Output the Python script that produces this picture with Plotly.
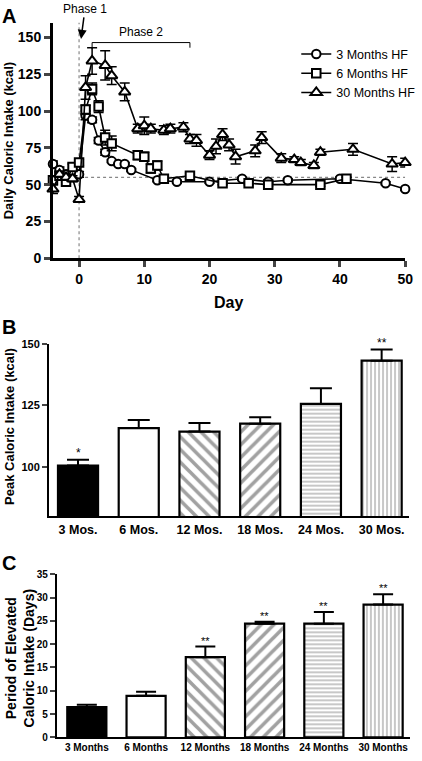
import plotly.graph_objects as go

W, H = 422, 761
FONT = "Arial, Liberation Sans, sans-serif"

# ---------------- Panel A data ----------------
days_3m = [-4, -3, -2, -1, 0, 1, 2, 3, 4, 5, 6, 7, 8, 12, 15, 20, 25, 29, 32, 40, 47, 50]
kcal_3m = [64, 60, 57, 58, 57, 97, 94, 80, 72, 66, 64, 64, 60, 53, 52, 52, 54, 52, 53, 54, 51, 47]
err_3m = [2, 2, 2, 2, 2, 3, 2, 2, 2, 1, 1, 1, 1, 1, 1, 1, 1, 1, 1, 1, 1, 1]

days_6m = [-4, -3, -2, -1, 0, 1, 2, 3, 4, 5, 9, 10, 11, 12, 13, 17, 22, 26, 29, 37, 41]
kcal_6m = [53, 56, 52, 62, 65, 101, 115, 103, 82, 78, 70, 69, 61, 63, 54, 56, 51, 51, 50, 50, 54]
err_6m = [2, 2, 2, 2, 2, 3, 4, 4, 5, 5, 3, 3, 3, 3, 2, 2, 1, 1, 1, 1, 1]

days_30m = [-4, -3, -2, -1, 0, 1, 2, 4, 5, 7, 9, 10, 11, 13, 14, 16, 17, 18, 20, 21, 22, 23, 24,
            27, 28, 31, 33, 34, 36, 37, 42, 48, 50]
kcal_30m = [47, 57, 55, 54, 40, 116, 134, 131, 124, 113, 88, 90, 88, 87, 88, 89, 81, 80, 70, 76, 84,
            77, 69, 73, 82, 68, 67, 65, 63, 72, 74, 64, 65]
err_30m = [3, 2, 2, 2, 2, 8, 9, 10, 6, 6, 3, 6, 3, 3, 3, 3, 3, 4, 3, 5, 4, 4, 5, 4, 4, 3, 2, 2, 2,
           2, 4, 5, 3]

series_names = ["3 Months HF", "6 Months HF", "30 Months HF"]
baseline_kcal = 55
phase2_start, phase2_end = 2, 17

# ---------------- Panel B data ----------------
peak_groups = ["3 Mos.", "6 Mos.", "12 Mos.", "18 Mos.", "24 Mos.", "30 Mos."]
peak_kcal = [100.6, 115.8, 114.4, 117.6, 125.6, 143.1]
peak_err = [2.4, 3.3, 3.5, 2.6, 6.3, 4.5]
peak_stars = ["*", "", "", "", "", "**"]

# ---------------- Panel C data ----------------
period_groups = ["3 Months", "6 Months", "12 Months", "18 Months", "24 Months", "30 Months"]
period_days = [6.5, 8.9, 17.2, 24.4, 24.4, 28.5]
period_err = [0.5, 0.9, 2.3, 0.4, 2.5, 2.2]
period_stars = ["", "", "**", "**", "**", "**"]

pattern_shapes = ["", "", "\\", "/", "-", "|"]
bar_colors = ["black", "white", "white", "white", "white", "white"]
pattern_fg = ["black", "black", "black", "black", "#808080", "#808080"]
pattern_size = [8, 8, 9, 9, 4, 4]
pattern_solid = [0.2, 0.2, 0.4, 0.4, 0.3, 0.3]


def px_x(p):
    return p / W


def px_y(p):
    return 1 - p / H


fig = go.Figure()

symbols = ["circle", "square", "triangle-up"]
for name, xs, ys, es, sym in zip(series_names, [days_3m, days_6m, days_30m],
                                  [kcal_3m, kcal_6m, kcal_30m], [err_3m, err_6m, err_30m], symbols):
    fig.add_trace(go.Scatter(
        x=xs, y=ys, name=name, mode="lines+markers",
        line=dict(color="black", width=1.6),
        marker=dict(symbol=sym, size=10 if sym == "triangle-up" else 8.5, color="white",
                    line=dict(color="black", width=2)),
        error_y=dict(type="data", array=es, visible=True, color="black", thickness=1.5, width=5),
        xaxis="x", yaxis="y", cliponaxis=False,
    ))

# Panel B bars
fig.add_trace(go.Bar(
    x=peak_groups, y=peak_kcal, width=0.66, showlegend=False,
    marker=dict(color=bar_colors, line=dict(color="black", width=2.2),
                pattern=dict(shape=pattern_shapes, fgcolor=pattern_fg, bgcolor=bar_colors,
                             size=pattern_size, solidity=pattern_solid)),
    error_y=dict(type="data", array=peak_err, arrayminus=[0] * 6, symmetric=False,
                 color="black", thickness=2, width=11),
    xaxis="x2", yaxis="y2",
))

# Panel C bars
fig.add_trace(go.Bar(
    x=period_groups, y=period_days, width=0.66, showlegend=False,
    marker=dict(color=bar_colors, line=dict(color="black", width=2.2),
                pattern=dict(shape=pattern_shapes, fgcolor=pattern_fg, bgcolor=bar_colors,
                             size=pattern_size, solidity=pattern_solid)),
    error_y=dict(type="data", array=period_err, arrayminus=[0] * 6, symmetric=False,
                 color="black", thickness=2, width=10),
    xaxis="x3", yaxis="y3",
))

annotations = []
# stars
for g, v, e, s in zip(peak_groups, peak_kcal, peak_err, peak_stars):
    if s:
        annotations.append(dict(x=g, y=v + e, xref="x2", yref="y2", text=s, showarrow=False,
                                yanchor="bottom", yshift=-2, font=dict(size=12, color="black", family=FONT)))
for g, v, e, s in zip(period_groups, period_days, period_err, period_stars):
    if s:
        annotations.append(dict(x=g, y=v + e, xref="x3", yref="y3", text=s, showarrow=False,
                                yanchor="bottom", yshift=-2, font=dict(size=11, color="black", family=FONT)))

# panel letters
for letter, yc in [("A", 10), ("B", 327), ("C", 567)]:
    annotations.append(dict(x=px_x(0), y=px_y(yc), xref="paper", yref="paper", text="<b>%s</b>" % letter,
                            showarrow=False, xanchor="left", yanchor="middle",
                            font=dict(size=20, color="black", family=FONT)))

# y titles
annotations.append(dict(x=px_x(9), y=px_y(137), xref="paper", yref="paper", xanchor="center",
                        yanchor="middle", text="<b>Daily Caloric Intake (kcal)</b>", textangle=-90,
                        showarrow=False, font=dict(size=13, color="black", family=FONT)))
annotations.append(dict(x=px_x(9), y=px_y(428), xref="paper", yref="paper", xanchor="center",
                        yanchor="middle", text="<b>Peak Caloric Intake (kcal)</b>", textangle=-90,
                        showarrow=False, font=dict(size=13, color="black", family=FONT)))
annotations.append(dict(x=px_x(20), y=px_y(664), xref="paper", yref="paper", xanchor="center",
                        yanchor="middle", text="<b>Period of Elevated<br>Caloric Intake (Days)</b>",
                        textangle=-90, showarrow=False, font=dict(size=14, color="black", family=FONT)))
# x title A
annotations.append(dict(x=px_x(233), y=px_y(302), xref="paper", yref="paper", text="<b>Day</b>",
                        xanchor="center", yanchor="middle",
                        showarrow=False, font=dict(size=16, color="black", family=FONT)))

# Phase 1 arrow
annotations.append(dict(x=0.3, y=149, xref="x", yref="y", text="Phase 1", showarrow=True,
                        arrowhead=2, arrowsize=1.2, arrowwidth=1.5, arrowcolor="black",
                        ax=4, ay=-30, font=dict(size=12, color="black", family=FONT), bgcolor="white"))
# Phase 2 label
annotations.append(dict(x=(phase2_start + phase2_end) / 2, y=146.5, xref="x", yref="y", text="Phase 2",
                        showarrow=False, yanchor="bottom", yshift=2,
                        font=dict(size=12, color="black", family=FONT)))

shapes = [
    dict(type="line", xref="x", yref="y", x0=0, x1=0, y0=0, y1=162,
         line=dict(color="#888888", width=1.2, dash="dot"), layer="below"),
    dict(type="line", xref="x", yref="y", x0=0, x1=50, y0=baseline_kcal, y1=baseline_kcal,
         line=dict(color="#888888", width=1.2, dash="dot"), layer="below"),
    dict(type="path", xref="x", yref="y",
         path="M %s,142 L %s,146.5 L %s,146.5 L %s,143" % (phase2_start, phase2_start, phase2_end, phase2_end),
         line=dict(color="black", width=1)),
]

axis_common = dict(showgrid=False, zeroline=False, linecolor="black", showline=True, mirror=False)
tickA = dict(size=14, color="black", family=FONT, weight="bold")

fig.update_layout(
    width=W, height=H,
    margin=dict(l=0, r=0, t=0, b=0),
    paper_bgcolor="white", plot_bgcolor="white",
    font=dict(family=FONT, color="black"),
    showlegend=True,
    legend=dict(x=px_x(302), y=px_y(34), xanchor="left", yanchor="top",
                font=dict(size=12.5, color="black", family=FONT), bgcolor="rgba(0,0,0,0)",
                itemwidth=30, tracegroupgap=0),
    xaxis=dict(domain=[px_x(54), px_x(413)], range=[-4, 50], tickvals=[0, 10, 20, 30, 40, 50],
               ticks="outside", ticklen=6, tickwidth=3, linewidth=3, tickfont=tickA,
               anchor="y", **axis_common),
    yaxis=dict(domain=[px_y(257), px_y(17)], range=[0, 160], tickvals=[0, 25, 50, 75, 100, 125, 150],
               ticks="outside", ticklen=6, tickwidth=3, linewidth=3, tickfont=tickA,
               anchor="x", **axis_common),
    xaxis2=dict(domain=[px_x(50), px_x(417)], range=[-0.477, 5.452], ticks="", linewidth=2.2,
                tickfont=dict(size=12.5, color="black", family=FONT, weight="bold"),
                anchor="y2", **axis_common),
    yaxis2=dict(domain=[px_y(520), px_y(344)], range=[80, 150], tickvals=[100, 125, 150],
                ticks="outside", ticklen=5, tickwidth=2, linewidth=2.2,
                tickfont=dict(size=11, color="black", family=FONT, weight="bold"),
                anchor="x2", **axis_common),
    xaxis3=dict(domain=[px_x(58), px_x(418)], range=[-0.505, 5.455], ticks="", linewidth=2.2,
                tickfont=dict(size=10, color="black", family=FONT, weight="bold"),
                anchor="y3", **axis_common),
    yaxis3=dict(domain=[px_y(745), px_y(579)], range=[0, 35], tickvals=[0, 5, 10, 15, 20, 25, 30, 35],
                ticks="outside", ticklen=5, tickwidth=2, linewidth=2.2,
                tickfont=dict(size=10, color="black", family=FONT, weight="bold"),
                anchor="x3", **axis_common),
    annotations=annotations,
    shapes=shapes,
    bargap=0.34,
)

fig.write_html("out.html", config={"displayModeBar": False},
               post_script="document.body.style.margin='0px';document.body.style.padding='0px';")
